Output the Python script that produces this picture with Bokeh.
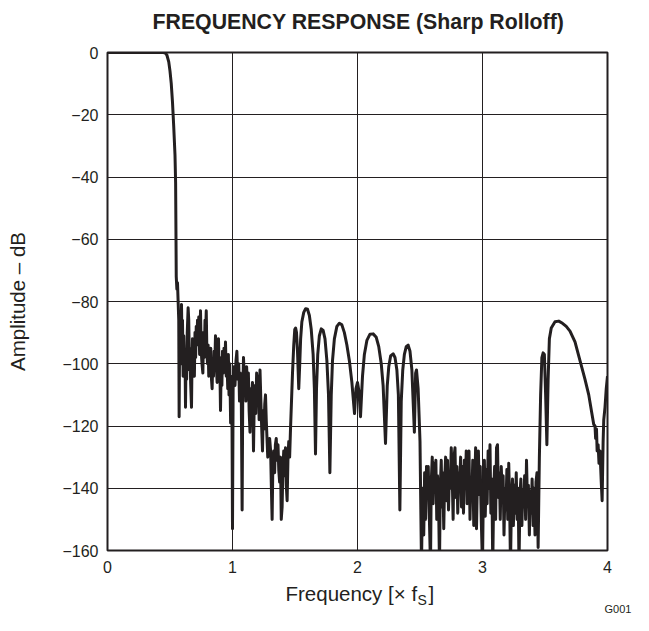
import math
from bokeh.plotting import figure
from bokeh.models import Range1d, FixedTicker, CustomJSTickFormatter, Label, ColumnDataSource
from bokeh.embed import file_html
from bokeh.resources import INLINE

# ---- data (frequency in x fS, amplitude in dB) ----
pass_f = [0.0, 0.1, 0.2, 0.3, 0.4, 0.44, 0.46, 0.475, 0.49, 0.5, 0.51, 0.52, 0.53, 0.54, 0.545, 0.548, 0.55]
pass_a = [0, 0, 0, 0, 0, -0.02, -0.1, -0.8, -3, -6, -10, -16, -24, -33, -42, -60, -72]

stop1_f = [0.555, 0.56, 0.565, 0.57, 0.573, 0.577, 0.582, 0.588, 0.592, 0.597, 0.6, 0.605, 0.61, 0.615, 0.62,
           0.624, 0.628, 0.633, 0.638, 0.645, 0.65, 0.656, 0.66, 0.665, 0.672, 0.676, 0.68, 0.685, 0.69, 0.695,
           0.7, 0.705, 0.71, 0.716, 0.72, 0.726, 0.73, 0.737, 0.744, 0.75, 0.756, 0.763, 0.768, 0.774, 0.78,
           0.785, 0.79, 0.795, 0.8, 0.805, 0.81, 0.815, 0.82, 0.826, 0.832, 0.837, 0.842, 0.848, 0.853, 0.858,
           0.864, 0.87, 0.877, 0.882, 0.888, 0.893, 0.898, 0.904, 0.91, 0.915, 0.92, 0.926, 0.932, 0.938, 0.944,
           0.95, 0.955, 0.962, 0.967, 0.972, 0.978, 0.985, 0.99, 0.995, 1.0]
stop1_a = [-76, -74, -80, -86, -117, -92, -88, -100, -81, -96, -86, -104, -91, -100, -96,
           -114, -98, -105, -90, -82, -86, -102, -95, -106, -114, -100, -92, -101, -97, -104,
           -90, -98, -88, -94, -86, -92, -85, -97, -83, -96, -100, -103, -90, -98, -86,
           -90, -83, -96, -100, -94, -104, -97, -102, -95, -105, -108, -99, -104, -96, -101,
           -91, -100, -106, -98, -92, -103, -98, -115, -100, -107, -96, -103, -95, -101, -93,
           -104, -98, -108, -97, -110, -100, -119, -104, -110, -153]

stop2_f = [1.005, 1.012, 1.02, 1.028, 1.035, 1.042, 1.05, 1.056, 1.062, 1.07, 1.077, 1.082, 1.088, 1.095, 1.1,
           1.107, 1.113, 1.12, 1.127, 1.133, 1.14, 1.146, 1.152, 1.16, 1.168, 1.174, 1.18, 1.186, 1.193, 1.2,
           1.207, 1.213, 1.22, 1.227, 1.233, 1.24, 1.246, 1.252, 1.258, 1.264, 1.27, 1.276, 1.282, 1.29, 1.297,
           1.305, 1.31, 1.317, 1.323, 1.33, 1.337, 1.343, 1.35, 1.357, 1.364, 1.37, 1.377, 1.384, 1.39, 1.397,
           1.403, 1.41, 1.417, 1.424, 1.43, 1.437, 1.444, 1.45, 1.457, 1.464]
stop2_a = [-108, -101, -107, -99, -96, -105, -100, -112, -103, -109, -147, -110, -98, -106, -102,
           -112, -101, -108, -103, -115, -122, -108, -112, -106, -128, -112, -107, -116, -103, -110,
           -104, -118, -102, -112, -120, -128, -115, -121, -113, -110, -118, -124, -130, -126, -124,
           -128, -138, -150, -132, -128, -135, -126, -124, -131, -126, -134, -138, -130, -150, -146,
           -134, -128, -136, -127, -139, -144, -130, -125, -130, -121]

lobes_f = [1.472, 1.48, 1.49, 1.498, 1.505, 1.512, 1.52, 1.53, 1.538, 1.545, 1.555, 1.57, 1.585, 1.6, 1.615,
           1.63, 1.645, 1.655, 1.664, 1.672, 1.682, 1.695, 1.71, 1.725, 1.74, 1.755, 1.768, 1.779, 1.79, 1.8,
           1.815, 1.835, 1.855, 1.875, 1.895, 1.915, 1.935, 1.955, 1.976, 1.988, 2.0, 2.012, 2.024, 2.04, 2.055,
           2.075, 2.1, 2.125, 2.15, 2.17, 2.19, 2.205, 2.224, 2.238, 2.25, 2.265, 2.285, 2.3, 2.315, 2.327,
           2.339, 2.35, 2.362, 2.375, 2.39, 2.405, 2.42, 2.435, 2.455, 2.465, 2.472, 2.485, 2.5, 2.512]
lobes_a = [-112, -103, -94, -89, -88.5, -90, -96, -108, -100, -92, -86.5, -83.5, -82.3, -82.5, -84.5,
           -89, -97, -108, -129, -108, -97, -91, -88.8, -89.3, -92, -99, -110, -135, -110, -99,
           -92, -88, -87, -87.5, -90, -94, -99, -106, -116, -108, -106, -109, -117, -104, -97,
           -92.5, -90.5, -90.4, -91.5, -94.5, -100, -107, -125.6, -107, -101, -97.5, -96.8, -98, -102, -110,
           -147, -112, -102, -97, -94.5, -94, -96, -102, -122, -103, -102, -108, -125, -165]

stop3_f = [2.52, 2.53, 2.537, 2.545, 2.552, 2.56, 2.566, 2.574, 2.584, 2.59, 2.598, 2.605, 2.612, 2.62, 2.627,
           2.634, 2.64, 2.648, 2.656, 2.662, 2.67, 2.676, 2.682, 2.69, 2.697, 2.705, 2.712, 2.72, 2.728, 2.735,
           2.742, 2.75, 2.757, 2.765, 2.772, 2.78, 2.787, 2.795, 2.802, 2.81, 2.817, 2.825, 2.832, 2.84, 2.848,
           2.855, 2.862, 2.87, 2.877, 2.885, 2.892, 2.9, 2.907, 2.915, 2.922, 2.93, 2.937, 2.945, 2.952, 2.96,
           2.967, 2.975, 2.982, 2.99, 3.0]
stop3_a = [-140, -155, -135, -150, -133, -140, -133, -148, -165, -138, -130, -145, -132, -140, -131,
           -150, -136, -143, -165, -140, -131, -146, -135, -153, -138, -130, -144, -131, -147, -136,
           -140, -127, -135, -150, -130, -127, -143, -133, -148, -135, -139, -130, -146, -133, -148,
           -131, -140, -128, -145, -135, -128, -150, -137, -143, -131, -152, -140, -127, -153, -136,
           -128, -142, -133, -150, -165]

stop4_f = [3.007, 3.015, 3.022, 3.03, 3.037, 3.045, 3.052, 3.06, 3.067, 3.075, 3.082, 3.09, 3.097, 3.105, 3.112,
           3.12, 3.127, 3.135, 3.142, 3.15, 3.157, 3.165, 3.172, 3.18, 3.187, 3.195, 3.202, 3.21, 3.217, 3.224,
           3.232, 3.24, 3.247, 3.255, 3.262, 3.27, 3.277, 3.285, 3.292, 3.3, 3.307, 3.315, 3.322, 3.33, 3.337,
           3.345, 3.352, 3.36, 3.367, 3.375, 3.382, 3.39, 3.397, 3.405, 3.412, 3.42, 3.428, 3.436, 3.445]
stop4_a = [-140, -131, -149, -134, -145, -128, -140, -126, -148, -137, -165, -140, -133, -150, -127,
           -126, -143, -135, -150, -133, -141, -136, -155, -140, -147, -134, -150, -132, -145, -165,
           -143, -137, -152, -139, -148, -135, -150, -140, -165, -142, -137, -152, -141, -146, -136,
           -150, -131, -145, -139, -155, -141, -148, -137, -152, -140, -155, -138, -135, -159]

image_f = [3.455, 3.465, 3.475, 3.485, 3.495, 3.505, 3.515, 3.525, 3.535, 3.55, 3.58, 3.61, 3.64, 3.67, 3.70,
           3.74, 3.78, 3.82, 3.85, 3.875, 3.89, 3.9, 3.905, 3.912, 3.917, 3.925, 3.932, 3.94, 3.95, 3.957,
           3.965, 3.97, 3.98, 3.99, 4.0]
image_a = [-130, -110, -98, -96.5, -97, -110, -126, -105, -92, -88.5, -86.5, -86.3, -87, -88, -89.5,
           -93, -99, -105, -110, -116, -119.5, -120, -124, -121, -128, -126, -132, -128, -138, -144,
           -125, -118, -114, -108, -104]

x_ticks = [0, 1, 2, 3, 4]
y_ticks = [-160, -140, -120, -100, -80, -60, -40, -20, 0]

freq = pass_f + stop1_f + stop2_f + lobes_f + stop3_f + stop4_f + image_f
amp = pass_a + stop1_a + stop2_a + lobes_a + stop3_a + stop4_a + image_a
src = ColumnDataSource(dict(f=freq, a=amp))

INK = "#231f20"
FONT = "Liberation Sans"

p = figure(width=633, height=615, output_backend="svg", toolbar_location=None,
           x_range=Range1d(0, 4), y_range=Range1d(-160, 0),
           min_border_left=107, min_border_right=26, min_border_top=52, min_border_bottom=65)
p.background_fill_color = "white"
p.border_fill_color = "white"
p.outline_line_color = INK
p.outline_line_width = 2

p.line("f", "a", source=src, line_color=INK, line_width=3, line_join="round")

for ax in (p.xaxis[0], p.yaxis[0]):
    ax.axis_line_color = None
    ax.major_tick_line_color = None
    ax.minor_tick_line_color = None
    ax.major_tick_out = 0
    ax.major_tick_in = 0
    ax.major_label_text_font = FONT
    ax.major_label_text_font_size = "16px"
    ax.major_label_text_color = INK
    ax.formatter = CustomJSTickFormatter(code="return tick < 0 ? '\u2212' + Math.abs(tick) : tick.toString();")
p.xaxis[0].major_label_standoff = 10
p.yaxis[0].major_label_standoff = 9
p.xaxis[0].ticker = FixedTicker(ticks=x_ticks)
p.yaxis[0].ticker = FixedTicker(ticks=y_ticks)

p.yaxis[0].axis_label = "Amplitude \u2013 dB"
p.yaxis[0].axis_label_text_font = FONT
p.yaxis[0].axis_label_text_font_size = "20.5px"
p.yaxis[0].axis_label_text_font_style = "normal"
p.yaxis[0].axis_label_text_color = INK
p.yaxis[0].axis_label_standoff = 30

p.xgrid.ticker = FixedTicker(ticks=x_ticks)
p.ygrid.ticker = FixedTicker(ticks=y_ticks)
for g in (p.xgrid[0], p.ygrid[0]):
    g.grid_line_color = INK
    g.grid_line_width = 1
    g.grid_line_alpha = 1.0

# title, x-axis label (subscript S in its own label) and figure code, placed in side panels
def lab(x, y, text, size, side, style="normal"):
    p.add_layout(Label(x=x, y=y, x_units="screen", y_units="screen", text=text, text_font=FONT,
                       text_font_size=size, text_font_style=style, text_color=INK, text_align="left",
                       text_baseline="middle"), side)

lab(45, 31, "FREQUENCY RESPONSE (Sharp Rolloff)", "21.3px", "above", "bold")
lab(178, 5, "Frequency [\u00d7 f\u00a0\u00a0]", "20.5px", "below")
lab(497, 2, "G001", "11px", "below")
lab(-190, -49, "S", "14px", "right")

open("out.html", "w").write(file_html(p, INLINE))
